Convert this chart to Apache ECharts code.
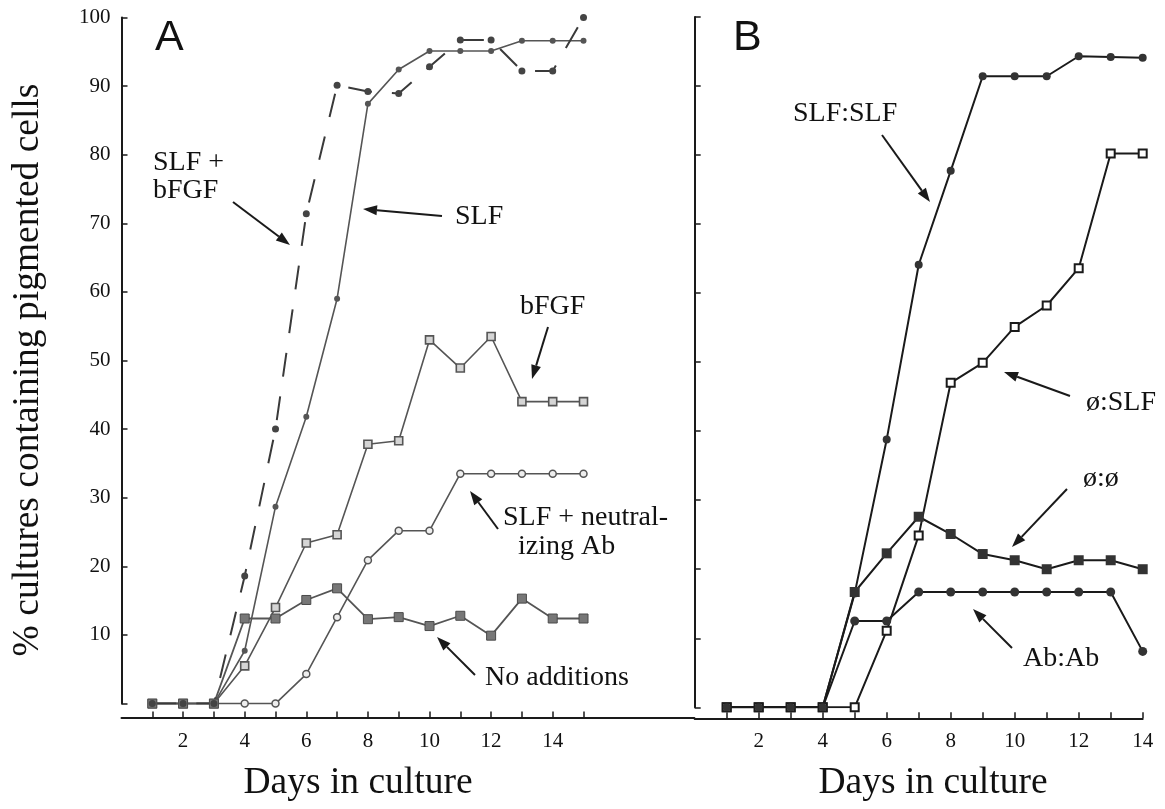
<!DOCTYPE html>
<html>
<head>
<meta charset="utf-8">
<title>Pigmented cells in culture</title>
<script src="https://cdn.jsdelivr.net/npm/echarts@6/dist/echarts.min.js"></script>
<style>
  html, body { margin: 0; padding: 0; background: #ffffff; }
  #chart { width: 1165px; height: 809px; }
</style>
</head>
<body>
<div id="chart"></div>
<script>
// ---- Panel A: culture conditions (percent of cultures with pigmented cells) ----
const daysA = [1, 2, 3, 4, 5, 6, 7, 8, 9, 10, 11, 12, 13, 14, 15];
const noAdditions = [0, 0, 0, 12.4, 12.4, 15.1, 16.8, 12.3, 12.6, 11.3, 12.8, 9.9, 15.3, 12.4, 12.4];
const bFGF        = [0, 0, 0, 5.5, 14.0, 23.4, 24.6, 37.8, 38.3, 53.0, 48.9, 53.5, 44.0, 44.0, 44.0];
const slfNeutAb   = [0, 0, 0, 0, 0, 4.3, 12.6, 20.9, 25.2, 25.2, 33.5, 33.5, 33.5, 33.5, 33.5];
const slf         = [0, 0, 0, 7.7, 28.7, 41.8, 59.0, 87.4, 92.4, 95.1, 95.1, 95.1, 96.6, 96.6, 96.6];
const slfBfgf     = [0, 0, 0, 18.6, 40.0, 71.4, 90.1, 89.2, 88.9, 92.8, 96.7, 96.7, 92.2, 92.2, 100];

// ---- Panel B: transfer experiments ----
const daysB = [1, 2, 3, 4, 5, 6, 7, 8, 9, 10, 11, 12, 13, 14];
const slfSlf   = [0, 0, 0, 0, 16.5, 38.8, 64.1, 77.7, 91.4, 91.4, 91.4, 94.3, 94.2, 94.1];
const nullSlf  = [0, 0, 0, 0, 0, 11.1, 24.9, 47.0, 49.9, 55.1, 58.2, 63.6, 80.2, 80.2];
const nullNull = [0, 0, 0, 0, 16.7, 22.3, 27.6, 25.1, 22.2, 21.3, 20.0, 21.3, 21.3, 20.0];
const abAb     = [0, 0, 0, 0, 12.5, 12.5, 16.7, 16.7, 16.7, 16.7, 16.7, 16.7, 16.7, 8.1];

// ---- Axis ticks and labels ----
const xTickLabels = [2, 4, 6, 8, 10, 12, 14];

const SERIF = "'Liberation Serif', 'Times New Roman', Times, serif";
const SANS = "'Liberation Sans', Arial, Helvetica, sans-serif";
const INK = '#1a1a1a';
const GRAY_A = '#555555';

const pairs = (xs, ys) => xs.map((x, i) => [x, ys[i]]);

// Day axis: drawn a little below the zero level, ticks on each culture day
function xAxisFor(gridIndex, max, ticks, offset) {
  return {
    type: 'value', gridIndex, min: 0, max, offset,
    axisLine: { show: true, onZero: false, lineStyle: { color: INK, width: 2 } },
    axisTick: { show: true, inside: true, length: 6, customValues: ticks,
                lineStyle: { color: INK, width: 1.5 } },
    axisLabel: { show: true, customValues: xTickLabels, margin: 13,
                 fontFamily: SERIF, fontSize: 21, color: '#111' },
    splitLine: { show: false }
  };
}

function yAxisFor(gridIndex, showLabels) {
  return {
    type: 'value', gridIndex, min: 0, max: 100, interval: 10,
    axisLine: { show: true, onZero: false, lineStyle: { color: INK, width: 2 } },
    axisTick: { show: true, inside: true, length: 6, lineStyle: { color: INK, width: 1.5 } },
    axisLabel: { show: showLabels, margin: 11, fontFamily: SERIF, fontSize: 21, color: '#111',
                 formatter: v => (v === 0 ? '' : String(v)) },
    splitLine: { show: false }
  };
}

function lineSeries(name, xi, xs, ys, opts) {
  return Object.assign({
    name, type: 'line', xAxisIndex: xi, yAxisIndex: xi,
    data: pairs(xs, ys), animation: false, silent: true,
    showAllSymbol: true
  }, opts);
}

// Annotation arrow: shaft plus a solid triangular head at (x2, y2)
function arrow(x1, y1, x2, y2) {
  const a = Math.atan2(y2 - y1, x2 - x1);
  const L = 14, W = 5;
  const bx = x2 - L * Math.cos(a), by = y2 - L * Math.sin(a);
  const p1 = [bx + W * Math.sin(a), by - W * Math.cos(a)];
  const p2 = [bx - W * Math.sin(a), by + W * Math.cos(a)];
  return [
    { type: 'line', shape: { x1, y1, x2: bx, y2: by }, style: { stroke: INK, lineWidth: 2 } },
    { type: 'polygon', shape: { points: [[x2, y2], p1, p2] }, style: { fill: INK } }
  ];
}

function label(text, x, y, size, font, align) {
  return { type: 'text', x, y, style: {
    text, fill: '#111', font: `${size}px ${font || SERIF}`,
    textAlign: align || 'left', textVerticalAlign: 'middle' } };
}

const chart = echarts.init(document.getElementById('chart'), null, { renderer: 'canvas' });

chart.setOption({
  backgroundColor: '#ffffff',
  animation: false,
  grid: [
    { left: 121.5, top: 17.4, width: 572.9, height: 686.2 },
    { left: 694.7, top: 16.9, width: 448, height: 690.4 }
  ],
  xAxis: [
    xAxisFor(0, 18.6, daysA, 14),
    xAxisFor(1, 14, daysB, 11)
  ],
  yAxis: [
    yAxisFor(0, true),
    yAxisFor(1, false)
  ],
  series: [
    // Panel A
    lineSeries('SLF + neutralizing Ab', 0, daysA, slfNeutAb, {
      symbol: 'circle', symbolSize: 7,
      lineStyle: { color: GRAY_A, width: 1.6 },
      itemStyle: { color: '#eeeeee', borderColor: GRAY_A, borderWidth: 1.5 }
    }),
    lineSeries('bFGF', 0, daysA, bFGF, {
      symbol: 'rect', symbolSize: 8,
      lineStyle: { color: GRAY_A, width: 1.6 },
      itemStyle: { color: '#d5d5d5', borderColor: GRAY_A, borderWidth: 1.6 }
    }),
    lineSeries('No additions', 0, daysA, noAdditions, {
      symbol: 'rect', symbolSize: 9,
      lineStyle: { color: GRAY_A, width: 1.8 },
      itemStyle: { color: '#777777', borderColor: '#4a4a4a', borderWidth: 1 }
    }),
    lineSeries('SLF', 0, daysA, slf, {
      symbol: 'circle', symbolSize: 6,
      lineStyle: { color: GRAY_A, width: 1.6 },
      itemStyle: { color: '#555555' }
    }),
    lineSeries('SLF + bFGF', 0, daysA, slfBfgf, {
      symbol: 'circle', symbolSize: 7,
      lineStyle: { color: '#3a3a3a', width: 2, type: [24, 20] },
      itemStyle: { color: '#444444' }
    }),
    // Panel B
    lineSeries('Ab:Ab', 1, daysB, abAb, {
      symbol: 'circle', symbolSize: 9,
      lineStyle: { color: INK, width: 2 },
      itemStyle: { color: '#333333' }
    }),
    lineSeries('ø:ø', 1, daysB, nullNull, {
      symbol: 'rect', symbolSize: 10,
      lineStyle: { color: INK, width: 2 },
      itemStyle: { color: '#333333' }
    }),
    lineSeries('ø:SLF', 1, daysB, nullSlf, {
      symbol: 'rect', symbolSize: 8,
      lineStyle: { color: INK, width: 2 },
      itemStyle: { color: '#ffffff', borderColor: INK, borderWidth: 2 }
    }),
    lineSeries('SLF:SLF', 1, daysB, slfSlf, {
      symbol: 'circle', symbolSize: 8,
      lineStyle: { color: INK, width: 2 },
      itemStyle: { color: '#333333' }
    })
  ],
  graphic: [
    // Panel letters
    label('A', 155, 38, 43, SANS),
    label('B', 733, 38, 43, SANS),
    // Axis titles
    label('Days in culture', 358, 783, 37.5, SERIF, 'center'),
    label('Days in culture', 933, 783, 37.5, SERIF, 'center'),
    { type: 'text', x: 28, y: 370, rotation: Math.PI / 2, style: {
        text: '% cultures containing pigmented cells', fill: '#111',
        font: `37.5px ${SERIF}`, textAlign: 'center', textVerticalAlign: 'middle' } },
    // Panel A annotations
    label('SLF +', 153, 163, 28),
    label('bFGF', 153, 191, 28),
    ...arrow(233, 202, 290, 245),
    label('SLF', 455, 217, 28),
    ...arrow(442, 216, 363, 209),
    label('bFGF', 520, 307, 28),
    ...arrow(548, 327, 532, 379),
    label('SLF + neutral-', 503, 518, 28),
    label('izing Ab', 518, 547, 28),
    ...arrow(498, 529, 470, 491),
    label('No additions', 485, 678, 28),
    ...arrow(475, 675, 437, 637),
    // Panel B annotations
    label('SLF:SLF', 793, 114, 28),
    ...arrow(882, 135, 930, 202),
    label('ø:SLF', 1086, 403, 28),
    ...arrow(1070, 396, 1004, 372),
    label('ø:ø', 1083, 479, 28),
    ...arrow(1067, 489, 1012, 547),
    label('Ab:Ab', 1023, 659, 28),
    ...arrow(1012, 648, 973, 609)
  ]
});
</script>
</body>
</html>
